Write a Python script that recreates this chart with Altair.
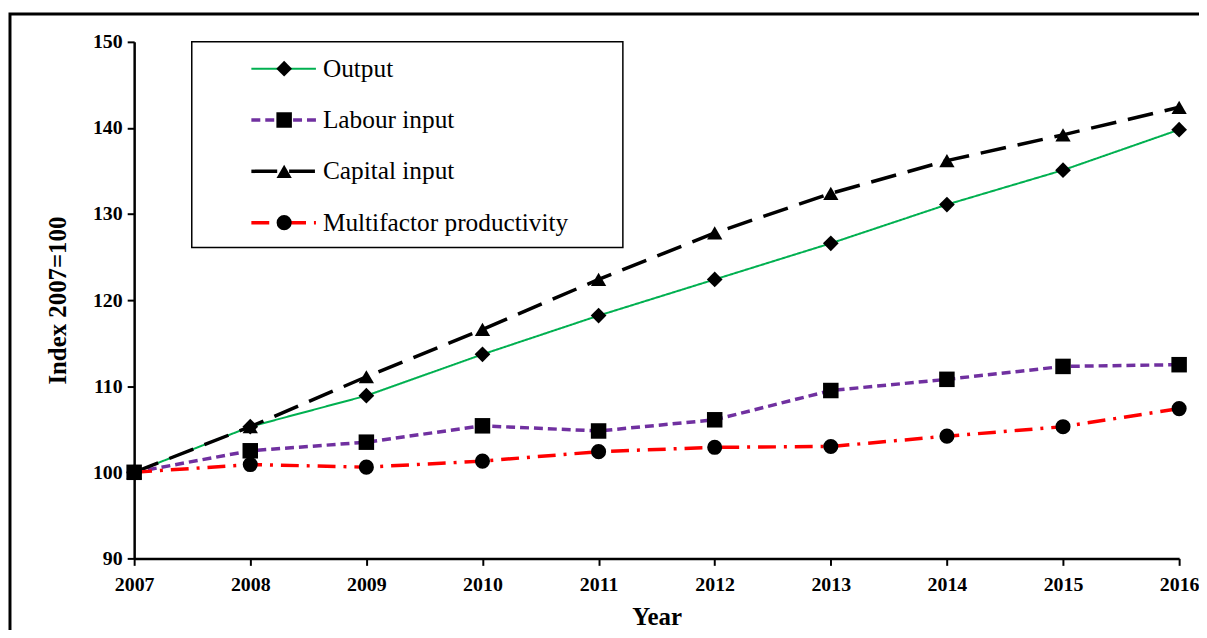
import altair as alt
import pandas as pd

years = list(range(2007, 2017))
series = ["Output", "Labour input", "Capital input", "Multifactor productivity"]
output = [100, 105.3, 108.9, 113.7, 118.2, 122.4, 126.6, 131.1, 135.1, 139.8]
labour = [100, 102.5, 103.5, 105.4, 104.8, 106.1, 109.5, 110.8, 112.3, 112.5]
capital = [100, 105.3, 111.1, 116.6, 122.4, 127.8, 132.4, 136.2, 139.2, 142.4]
mfp = [100, 100.9, 100.6, 101.3, 102.4, 102.9, 103.0, 104.2, 105.3, 107.4]
y_ticks = [90, 100, 110, 120, 130, 140, 150]

colors = ["#00B050", "#7030A0", "#000000", "#FF0000"]
dashes = [[1, 0], [9, 5], [26, 12], [18, 8, 3, 8]]
widths = [2, 3.5, 3.5, 3.5]
shapes = ["diamond", "square", "triangle-up", "circle"]
sizes = [250, 230, 240, 250]

rows = []
for name, vals in zip(series, [output, labour, capital, mfp]):
    for yr, v in zip(years, vals):
        rows.append({"year": yr, "value": v, "series": name})
df = pd.DataFrame(rows)
leg = pd.DataFrame({"series": series})
one = pd.DataFrame({"a": [0]})

FONT = "Liberation Serif"
color_enc = alt.Color("series:N", scale=alt.Scale(domain=series, range=colors), legend=None)
shape_enc = alt.Shape("series:N", scale=alt.Scale(domain=series, range=shapes), legend=None)
size_enc = alt.Size("series:N", scale=alt.Scale(domain=series, range=sizes), legend=None)

x_enc = alt.X("year:Q", scale=alt.Scale(domain=[2007, 2016], nice=False),
              axis=alt.Axis(values=years, format="d", title="Year", labelFlush=False,
                            labelPadding=9, titlePadding=11, labelOverlap=False))
y_enc = alt.Y("value:Q", scale=alt.Scale(domain=[90, 150], nice=False),
              axis=alt.Axis(values=y_ticks, title="Index 2007=100", labelPadding=5,
                            titlePadding=22))

ly = alt.Y("series:N", scale=alt.Scale(type="point", domain=series, range=[27, 182], padding=0),
           axis=None)

base = alt.Chart(df)
line_layers = []
leg_line_layers = []
for name, w, d in zip(series, widths, dashes):
    line_layers.append(
        base.transform_filter(alt.datum.series == name)
        .mark_line(strokeWidth=w, strokeDash=d)
        .encode(x=x_enc, y=y_enc, color=color_enc)
    )
    leg_line_layers.append(
        alt.Chart(leg).transform_filter(alt.datum.series == name)
        .mark_rule(strokeWidth=w, strokeDash=d)
        .encode(x=alt.value(118), x2=alt.value(183), y=ly, color=color_enc)
    )

points = base.mark_point(filled=True, color="black", opacity=1).encode(
    x=x_enc, y=y_enc, shape=shape_enc, size=size_enc)
main = alt.layer(*line_layers, points)

frame = alt.Chart(one).mark_rect(fill="transparent", stroke="black", strokeWidth=3, clip=False).encode(
    x=alt.value(-125), x2=alt.value(1200), y=alt.value(-28), y2=alt.value(700))

legbox = alt.Chart(one).mark_rect(fill="white", stroke="black", strokeWidth=1.5).encode(
    x=alt.value(58), x2=alt.value(492), y=alt.value(0), y2=alt.value(207))

legpt = alt.Chart(leg).mark_point(filled=True, color="black", opacity=1).encode(
    x=alt.value(151), y=ly, shape=shape_enc, size=size_enc)
legtxt = alt.Chart(leg).mark_text(align="left", baseline="middle", font=FONT,
                                   fontSize=25.5, color="black").encode(
    x=alt.value(190), y=ly, text="series:N")
legend = alt.layer(*leg_line_layers, legpt, legtxt)

chart = alt.layer(frame, main, legbox, legend).resolve_scale(
    y="independent"
).properties(
    width=1052, height=520,
    background="white",
    autosize=alt.AutoSizeParams(type="none"),
    padding={"left": 127, "top": 32, "right": 20, "bottom": 70},
).configure_view(stroke=None).configure_axis(
    domainColor="black", domainWidth=2.5, tickColor="black", tickWidth=2, tickSize=7,
    grid=False, labelFont=FONT, labelFontWeight="bold", labelFontSize=20, labelColor="black",
    titleFont=FONT, titleFontWeight="bold", titleFontSize=25, titleColor="black",
)

chart.save("out.html", embed_options={"renderer": "svg", "actions": False})
